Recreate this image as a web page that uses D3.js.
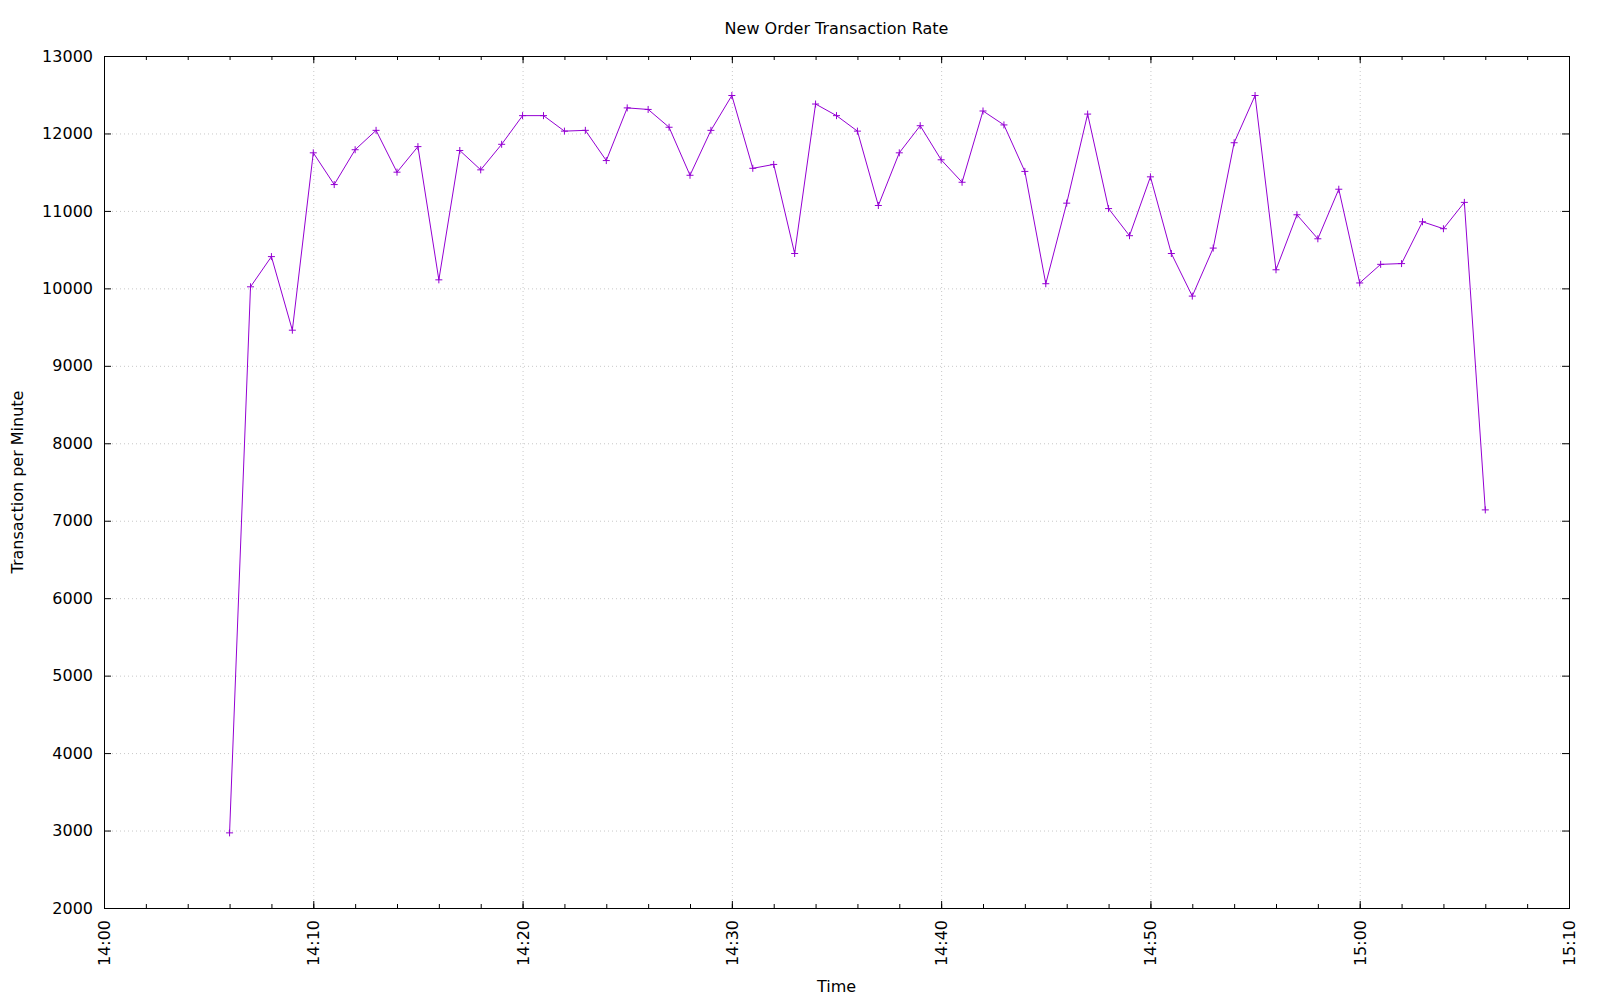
<!DOCTYPE html>
<html>
<head>
<meta charset="utf-8">
<script src="https://cdn.jsdelivr.net/npm/d3@7"></script>
<style>
  body { margin: 0; background: #fff; }
  svg { display: block; font-family: "DejaVu Sans", sans-serif; }
  .grid line { stroke: #c8c8c8; stroke-dasharray: 1,3; }
  .grid path { display: none; }
</style>
</head>
<body>
<div id="chart"></div>
<script>
var times = [
  "14:06", "14:07", "14:08", "14:09", "14:10", "14:11", "14:12", "14:13", "14:14", "14:15",
  "14:16", "14:17", "14:18", "14:19", "14:20", "14:21", "14:22", "14:23", "14:24", "14:25",
  "14:26", "14:27", "14:28", "14:29", "14:30", "14:31", "14:32", "14:33", "14:34", "14:35",
  "14:36", "14:37", "14:38", "14:39", "14:40", "14:41", "14:42", "14:43", "14:44", "14:45",
  "14:46", "14:47", "14:48", "14:49", "14:50", "14:51", "14:52", "14:53", "14:54", "14:55",
  "14:56", "14:57", "14:58", "14:59", "15:00", "15:01", "15:02", "15:03", "15:04", "15:05",
  "15:06"
];

var rates = [
  2970, 10020, 10410, 9460, 11750, 11340, 11790, 12040, 11500, 11830,
  10110, 11780, 11530, 11860, 12230, 12230, 12030, 12040, 11650, 12330,
  12310, 12080, 11460, 12040, 12490, 11550, 11600, 10450, 12380, 12230,
  12030, 11070, 11750, 12100, 11660, 11370, 12290, 12110, 11510, 10060,
  11100, 12250, 11030, 10680, 11440, 10450, 9900, 10520, 11880, 12490,
  10240, 10950, 10640, 11280, 10070, 10310, 10320, 10860, 10770, 11110,
  7140
];

var xTicks = ["14:00", "14:10", "14:20", "14:30", "14:40", "14:50", "15:00", "15:10"];
var yTicks = [2000, 3000, 4000, 5000, 6000, 7000, 8000, 9000, 10000, 11000, 12000, 13000];

var parseTime = d3.timeParse("%H:%M");
var data = times.map(function(t, i) {
  return { time: parseTime(t), rate: rates[i] };
});

var svgWidth = 1600;
var svgHeight = 1000;
var margin = { top: 56, left: 104 };
var width = 1465;
var height = 852;

var svg = d3.select("#chart")
  .append("svg")
  .attr("width", svgWidth)
  .attr("height", svgHeight);

var chartGroup = svg.append("g")
  .attr("transform", `translate(${margin.left}, ${margin.top})`);

var xTickDates = xTicks.map(parseTime);

var xScale = d3.scaleTime()
  .domain([xTickDates[0], xTickDates[xTickDates.length - 1]])
  .range([0, width]);

var yScale = d3.scaleLinear()
  .domain([yTicks[0], yTicks[yTicks.length - 1]])
  .range([height, 0]);

// grid
chartGroup.append("g")
  .attr("class", "grid")
  .attr("transform", `translate(0, ${height})`)
  .call(d3.axisBottom(xScale).tickValues(xTickDates.slice(1, -1)).tickSize(-height).tickFormat(""));

chartGroup.append("g")
  .attr("class", "grid")
  .call(d3.axisLeft(yScale).tickValues(yTicks.slice(1, -1)).tickSize(-width).tickFormat(""));

// minor x ticks, bottom and top
var minorTicks = xScale.ticks(d3.timeMinute.every(2));

chartGroup.append("g")
  .attr("transform", `translate(0, ${height})`)
  .call(d3.axisBottom(xScale).tickValues(minorTicks).tickSize(-4).tickFormat(""))
  .call(g => g.select(".domain").remove());

chartGroup.append("g")
  .call(d3.axisTop(xScale).tickValues(minorTicks).tickSize(-4).tickFormat(""))
  .call(g => g.select(".domain").remove());

// major axes
var xAxis = d3.axisBottom(xScale)
  .tickValues(xTickDates)
  .tickSize(-7)
  .tickFormat(d3.timeFormat("%H:%M"));

chartGroup.append("g")
  .attr("transform", `translate(0, ${height})`)
  .call(xAxis)
  .call(g => g.select(".domain").remove())
  .selectAll("text")
  .attr("font-size", 16)
  .attr("font-family", "DejaVu Sans")
  .attr("fill", "#000")
  .attr("text-anchor", "end")
  .attr("dy", null)
  .attr("y", null)
  .attr("transform", "translate(0, 12) rotate(-90)")
  .attr("dominant-baseline", "central");

chartGroup.append("g")
  .call(d3.axisTop(xScale).tickValues(xTickDates).tickSize(-7).tickFormat(""))
  .call(g => g.select(".domain").remove());

var yAxis = d3.axisLeft(yScale)
  .tickValues(yTicks)
  .tickSize(-7)
  .tickPadding(11)
  .tickFormat(d3.format("d"));

chartGroup.append("g")
  .call(yAxis)
  .call(g => g.select(".domain").remove())
  .selectAll("text")
  .attr("font-size", 16)
  .attr("font-family", "DejaVu Sans")
  .attr("fill", "#000");

chartGroup.append("g")
  .attr("transform", `translate(${width}, 0)`)
  .call(d3.axisRight(yScale).tickValues(yTicks).tickSize(-7).tickFormat(""))
  .call(g => g.select(".domain").remove());

// border
chartGroup.append("rect")
  .attr("x", 0.5)
  .attr("y", 0.5)
  .attr("width", width)
  .attr("height", height)
  .attr("fill", "none")
  .attr("stroke", "#000")
  .attr("stroke-width", 1);

// series
var line = d3.line()
  .x(d => xScale(d.time))
  .y(d => yScale(d.rate));

chartGroup.append("path")
  .datum(data)
  .attr("d", line)
  .attr("fill", "none")
  .attr("stroke", "#9400d3")
  .attr("stroke-width", 1);

chartGroup.selectAll(".pt")
  .data(data)
  .enter()
  .append("path")
  .attr("class", "pt")
  .attr("d", function(d) {
    var x = xScale(d.time), y = yScale(d.rate);
    return `M${x - 3.5},${y}H${x + 3.5}M${x},${y - 3.5}V${y + 3.5}`;
  })
  .attr("stroke", "#9400d3")
  .attr("stroke-width", 1);

// titles
svg.append("text")
  .attr("x", margin.left + width / 2)
  .attr("y", 34)
  .attr("text-anchor", "middle")
  .attr("font-size", 16)
  .text("New Order Transaction Rate");

svg.append("text")
  .attr("transform", `translate(23, ${margin.top + height / 2}) rotate(-90)`)
  .attr("text-anchor", "middle")
  .attr("font-size", 16)
  .text("Transaction per Minute");

svg.append("text")
  .attr("x", margin.left + width / 2)
  .attr("y", 992)
  .attr("text-anchor", "middle")
  .attr("font-size", 16)
  .text("Time");
</script>
</body>
</html>
